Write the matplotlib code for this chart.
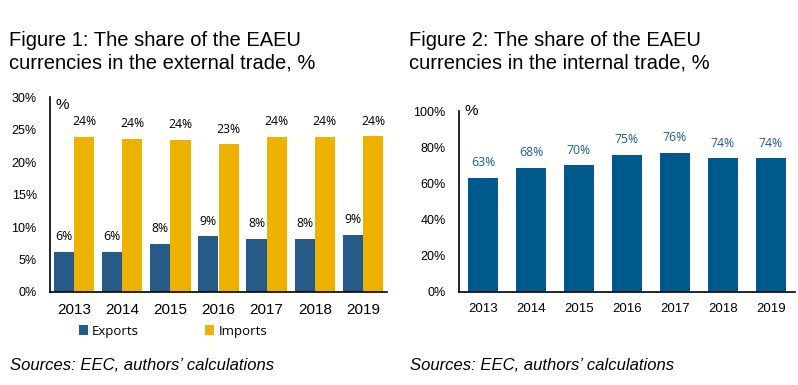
import matplotlib.pyplot as plt
import numpy as np

years = ['2013', '2014', '2015', '2016', '2017', '2018', '2019']
exports = [6.2, 6.2, 7.4, 8.6, 8.2, 8.2, 8.8]
imports = [23.9, 23.6, 23.4, 22.7, 23.9, 23.9, 24.0]
exports_lbl = ['6%', '6%', '8%', '9%', '8%', '8%', '9%']
imports_lbl = ['24%', '24%', '24%', '23%', '24%', '24%', '24%']
internal = [62.9, 68.4, 70.0, 75.6, 76.7, 73.9, 73.9]
internal_lbl = ['63%', '68%', '70%', '75%', '76%', '74%', '74%']

c_exp = '#265a88'
c_imp = '#edb100'
c_int = '#005a8e'

plt.rcParams['font.family'] = ['Liberation Sans', 'DejaVu Sans']

fig = plt.figure(figsize=(7.98, 3.85), dpi=100)
W, H = 798, 385


def add_axes_px(x0, x1, ytop, ybot):
    return fig.add_axes([x0 / W, 1 - ybot / H, (x1 - x0) / W, (ybot - ytop) / H])


def style(ax, xsize):
    for s in ['top', 'right']:
        ax.spines[s].set_visible(False)
    for s in ['left', 'bottom']:
        ax.spines[s].set_linewidth(1.2)
    ax.tick_params(axis='both', length=0)
    ax.tick_params(axis='y', pad=9.5, labelsize=9)
    ax.tick_params(axis='x', pad=8, labelsize=xsize)


x = np.arange(len(years))

# ---------------- Figure 1
ax1 = add_axes_px(50, 387, 97, 292)
w = 0.42
ax1.bar(x - w / 2, exports, w, color=c_exp, label='Exports')
ax1.bar(x + w / 2, imports, w, color=c_imp, label='Imports')
for i in range(len(years)):
    ax1.text(x[i] - w / 2, exports[i] + 2.3, exports_lbl[i], ha='center', va='center',
             fontsize=8.8, family='Open Sans')
    ax1.text(x[i] + w / 2, imports[i] + 2.3, imports_lbl[i], ha='center', va='center',
             fontsize=8.8, family='Open Sans')
ax1.set_xlim(-0.5, 6.5)
ax1.set_ylim(0, 30)
ax1.set_yticks(range(0, 31, 5))
ax1.set_yticklabels([f'{v}%' for v in range(0, 31, 5)])
ax1.set_xticks(x)
ax1.set_xticklabels(years)
style(ax1, 11)
ax1.text(0.015, 0.96, '%', transform=ax1.transAxes, fontsize=11, va='center', ha='left')
ax1.legend(loc='center', bbox_to_anchor=(173 / W, 1 - 331 / H), bbox_transform=fig.transFigure,
           ncol=2, frameon=False, handlelength=0.7, handleheight=0.7, handletextpad=0.3,
           columnspacing=5.0, prop={'family': 'Open Sans', 'size': 9.5})

# ---------------- Figure 2
ax2 = add_axes_px(459, 795, 111, 292)
ax2.bar(x, internal, 0.62, color=c_int)
for i in range(len(years)):
    ax2.text(x[i], internal[i] + 8.4, internal_lbl[i], ha='center', va='center',
             fontsize=8.8, family='Open Sans', color='#1f5f8f')
ax2.set_xlim(-0.5, 6.5)
ax2.set_ylim(0, 100)
ax2.set_yticks(range(0, 101, 20))
ax2.set_yticklabels([f'{v}%' for v in range(0, 101, 20)])
ax2.set_xticks(x)
ax2.set_xticklabels(years)
style(ax2, 9.5)
ax2.text(0.015, 1.0, '%', transform=ax2.transAxes, fontsize=11, va='center', ha='left')

# ---------------- titles and sources
title_kw = dict(fontsize=14.5, va='top', ha='left', linespacing=1.22)
fig.text(9 / W, 1 - 31 / H, 'Figure 1: The share of the EAEU\ncurrencies in the external trade, %', **title_kw)
fig.text(409 / W, 1 - 31 / H, 'Figure 2: The share of the EAEU\ncurrencies in the internal trade, %', **title_kw)
src_kw = dict(fontsize=12, style='italic', va='center', ha='left')
fig.text(10 / W, 1 - 365 / H, 'Sources: EEC, authors\u2019 calculations', **src_kw)
fig.text(410 / W, 1 - 365 / H, 'Sources: EEC, authors\u2019 calculations', **src_kw)

fig.savefig('out.png', dpi=100)
